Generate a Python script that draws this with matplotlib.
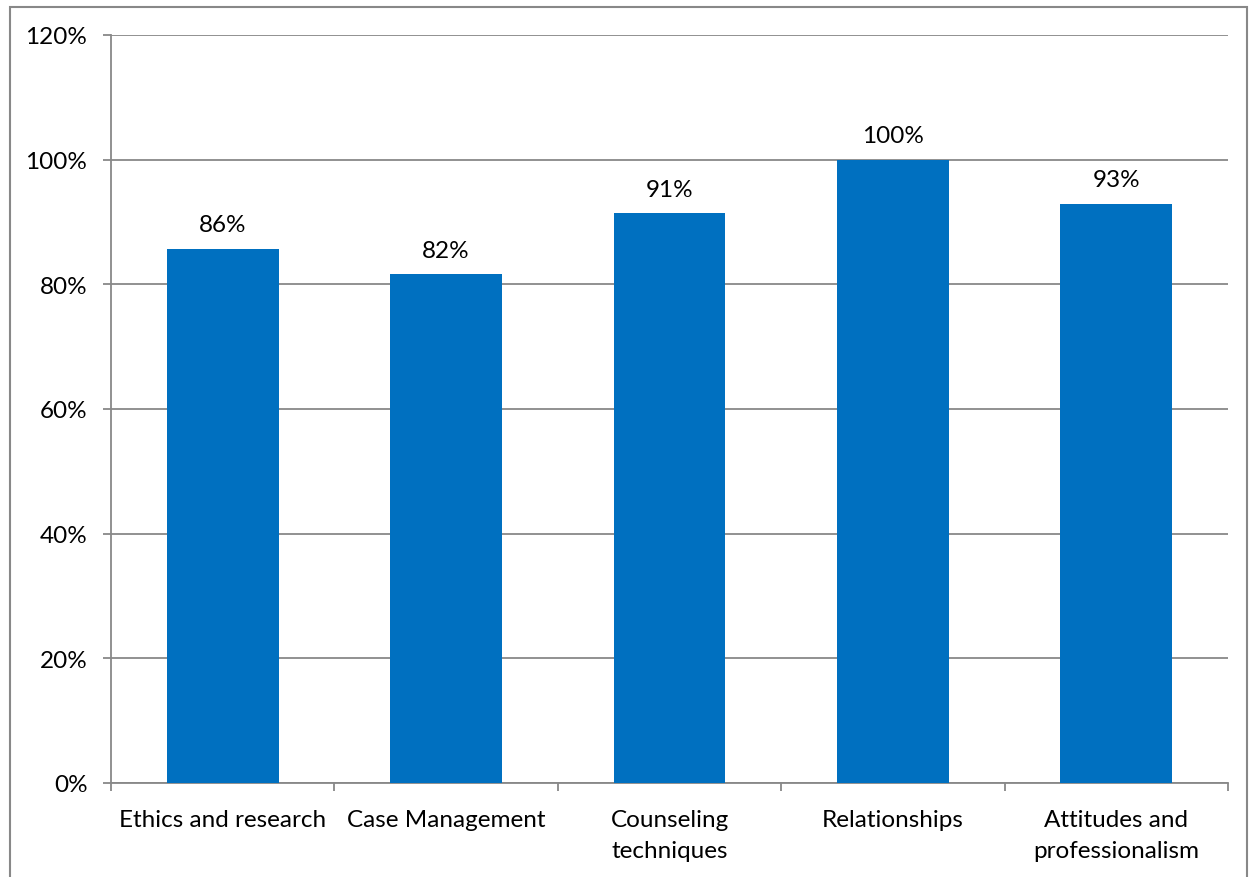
import matplotlib.pyplot as plt
from matplotlib.patches import Rectangle
from matplotlib.ticker import PercentFormatter, FixedLocator

# Dados do gráfico
categorias = ["Ethics and research", "Case Management", "Counseling\ntechniques",
              "Relationships", "Attitudes and\nprofessionalism"]
valores = [0.857, 0.816, 0.914, 1.00, 0.929]

plt.rcParams['font.family'] = ['Lato', 'DejaVu Sans']
cor_barra = '#0070C0'
cor_eixo = '#888888'
fs = 17.5

W, H = 1255, 878
fig = plt.figure(figsize=(W / 100, H / 100), dpi=100)
ax = fig.add_axes([111 / W, 1 - 784 / H, (1228 - 111) / W, (784 - 36) / H])

x = range(len(categorias))
barras = ax.bar(x, valores, width=0.5, color=cor_barra, zorder=3)

# Rótulos com o valor de cada barra
for xi, v in zip(x, valores):
    ax.text(xi, v + 0.022, f"{v:.0%}", ha='center', va='bottom', fontsize=fs, zorder=4)

ax.set_xlim(-0.5, len(categorias) - 0.5)
ax.set_ylim(0, 1.2)
ax.set_yticks([0, 0.2, 0.4, 0.6, 0.8, 1.0, 1.2])
ax.yaxis.set_major_formatter(PercentFormatter(1.0, decimals=0))
ax.set_xticks(list(x))
ax.set_xticklabels(categorias, fontsize=fs, linespacing=1.55)
ax.xaxis.set_minor_locator(FixedLocator([i - 0.5 for i in range(len(categorias) + 1)]))
ax.tick_params(axis='x', which='major', length=0, pad=19)
ax.tick_params(axis='x', which='minor', length=6, color=cor_eixo, width=1.3)
ax.tick_params(axis='y', length=6, color=cor_eixo, width=1.3, labelsize=fs, pad=11)

ax.grid(axis='y', color=cor_eixo, linewidth=1.3, zorder=0)
for lado in ['top', 'right']:
    ax.spines[lado].set_visible(False)
for lado in ['left', 'bottom']:
    ax.spines[lado].set_color(cor_eixo)
    ax.spines[lado].set_linewidth(1.3)

# Borda do gráfico
borda = Rectangle((9.5 / W, -0.05), (1247 - 9.5) / W, 1.05 - 7.5 / H,
                  transform=fig.transFigure, fill=False, edgecolor=cor_eixo,
                  linewidth=1.5, clip_on=False)
fig.patches.append(borda)

fig.savefig("out.png", dpi=100)
